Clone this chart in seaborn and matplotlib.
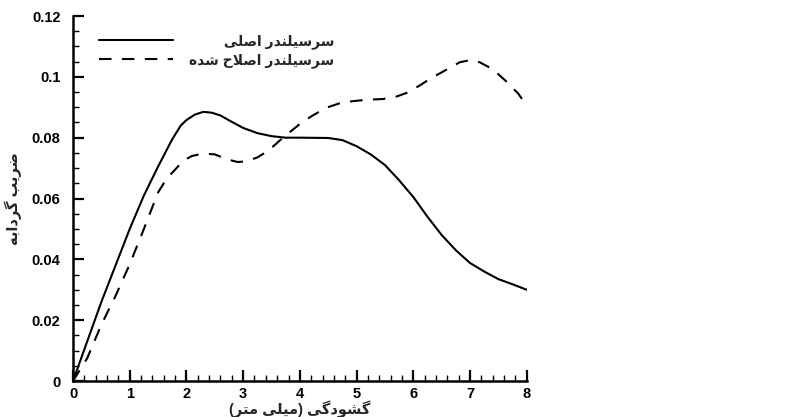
import matplotlib
matplotlib.use("Agg")
import matplotlib.pyplot as plt
from matplotlib.ticker import MultipleLocator
import seaborn as sns
import pandas as pd

# ---------------- data ----------------
x_main = [0, 0.25, 0.5, 0.75, 1, 1.25, 1.5, 1.75, 1.9, 2.0, 2.15, 2.3, 2.45, 2.6, 2.8,
          3.0, 3.25, 3.5, 3.75, 4.0, 4.5, 4.75, 5.0, 5.25, 5.5, 5.75, 6.0, 6.25, 6.5,
          6.75, 7.0, 7.25, 7.5, 7.75, 8]
y_main = [0, 0.013, 0.026, 0.038, 0.050, 0.061, 0.0705, 0.0795, 0.084, 0.0858, 0.0876,
          0.0885, 0.0882, 0.0873, 0.0852, 0.0832, 0.0815, 0.0805, 0.0800, 0.0800,
          0.0799, 0.0792, 0.0772, 0.0745, 0.0710, 0.0660, 0.0605, 0.0540, 0.0480,
          0.0430, 0.0388, 0.0360, 0.0335, 0.0318, 0.0300]

x_mod = [0, 0.25, 0.5, 0.75, 1, 1.25, 1.5, 1.65, 1.8, 1.95, 2.1, 2.3, 2.5, 2.7, 2.9,
         3.05, 3.25, 3.45, 3.64, 3.8, 4.0, 4.2, 4.46, 4.7, 4.93, 5.2, 5.46, 5.7, 5.88,
         6.1, 6.29, 6.55, 6.82, 7.0, 7.17, 7.4, 7.64, 7.85, 8]
y_mod = [0, 0.0075, 0.0185, 0.028, 0.0384, 0.050, 0.062, 0.0665, 0.0695, 0.0725,
         0.0740, 0.0748, 0.0745, 0.0730, 0.0720, 0.0722, 0.0735, 0.0758, 0.0790,
         0.0815, 0.0845, 0.0870, 0.0898, 0.0913, 0.0920, 0.0925, 0.0927, 0.0935,
         0.0947, 0.0970, 0.0993, 0.1020, 0.1048, 0.1055, 0.1048, 0.1025, 0.0985,
         0.0945, 0.0905]

label_main = "سرسیلندر اصلی"
label_mod = "سرسیلندر اصلاح شده"
xlabel = "گشودگی (میلی متر)"
ylabel = "ضریب گردابه"
x_ticks = [0, 1, 2, 3, 4, 5, 6, 7, 8]
y_ticks = [0, 0.02, 0.04, 0.06, 0.08, 0.1, 0.12]
y_ticklabels = ["0", "0.02", "0.04", "0.06", "0.08", "0.1", "0.12"]

# ---------------- simple Persian shaping (matplotlib has no text shaping) ----------------
DUAL = {
    'ب': (0xFE8F, 0xFE90, 0xFE91, 0xFE92), 'ت': (0xFE95, 0xFE96, 0xFE97, 0xFE98),
    'ح': (0xFEA1, 0xFEA2, 0xFEA3, 0xFEA4), 'س': (0xFEB1, 0xFEB2, 0xFEB3, 0xFEB4),
    'ش': (0xFEB5, 0xFEB6, 0xFEB7, 0xFEB8), 'ص': (0xFEB9, 0xFEBA, 0xFEBB, 0xFEBC),
    'ض': (0xFEBD, 0xFEBE, 0xFEBF, 0xFEC0), 'ل': (0xFEDD, 0xFEDE, 0xFEDF, 0xFEE0),
    'م': (0xFEE1, 0xFEE2, 0xFEE3, 0xFEE4), 'ن': (0xFEE5, 0xFEE6, 0xFEE7, 0xFEE8),
    'ه': (0xFEE9, 0xFEEA, 0xFEEB, 0xFEEC), 'ی': (0xFBFC, 0xFBFD, 0xFBFE, 0xFBFF),
    'گ': (0xFB92, 0xFB93, 0xFB94, 0xFB95),
}
RIGHT = {'ا': (0xFE8D, 0xFE8E), 'د': (0xFEA9, 0xFEAA), 'ر': (0xFEAD, 0xFEAE),
         'و': (0xFEED, 0xFEEE)}


def shape(s):
    chars = list(s)
    n = len(chars)
    res = []
    i = 0
    while i < n:
        c = chars[i]
        prev = chars[i - 1] if i > 0 else ''
        jp = prev in DUAL
        if c == 'ل' and i + 1 < n and chars[i + 1] == 'ا':
            res.append(chr(0xFEFC if jp else 0xFEFB))
            i += 2
            continue
        nxt = chars[i + 1] if i + 1 < n else ''
        if c in DUAL:
            jn = nxt in DUAL or nxt in RIGHT
            f = DUAL[c]
            idx = 3 if (jp and jn) else 1 if jp else 2 if jn else 0
            res.append(chr(f[idx]))
        elif c in RIGHT:
            res.append(chr(RIGHT[c][1 if jp else 0]))
        else:
            res.append(c)
        i += 1
    vis = ''.join(reversed(res))
    return vis.translate(str.maketrans('()', ')('))


# ---------------- style ----------------
sns.set_style("ticks")
plt.rcParams['font.family'] = ['Liberation Sans', 'DejaVu Sans']
plt.rcParams['font.weight'] = 'bold'

fig = plt.figure(figsize=(7.85, 4.17), dpi=100)
ax = fig.add_axes([0.093, 0.0863, 0.578, 0.8753])

df_main = pd.DataFrame({"x": x_main, "y": y_main})
df_mod = pd.DataFrame({"x": x_mod, "y": y_mod})

sns.lineplot(data=df_main, x="x", y="y", ax=ax, color="black", linewidth=1.5,
             label=shape(label_main), sort=False)
sns.lineplot(data=df_mod, x="x", y="y", ax=ax, color="black", linewidth=1.5,
             linestyle=(0, (6, 5)), label=shape(label_mod), sort=False)

ax.set_xlim(0, 8)
ax.set_ylim(0, 0.12)
ax.set_xticks(x_ticks)
ax.set_xticklabels([str(t) for t in x_ticks])
ax.set_yticks(y_ticks)
ax.set_yticklabels(y_ticklabels)
ax.xaxis.set_minor_locator(MultipleLocator(0.2))
ax.yaxis.set_minor_locator(MultipleLocator(0.005))
ax.tick_params(which="major", direction="in", length=8, width=1.6, labelsize=10.5,
               color="black", labelcolor="black")
ax.tick_params(axis="y", which="major", pad=9)
ax.tick_params(axis="x", which="major", pad=4)
ax.tick_params(which="minor", direction="in", length=4, width=1.0, color="black")
for lab in ax.get_xticklabels() + ax.get_yticklabels():
    lab.set_fontweight("bold")

for side in ["top", "right"]:
    ax.spines[side].set_visible(False)
for side in ["left", "bottom"]:
    ax.spines[side].set_linewidth(1.8)
    ax.spines[side].set_color("black")

ax.set_xlabel(shape(xlabel), fontsize=10.5, fontweight="bold", labelpad=0)
ax.set_ylabel(shape(ylabel), fontsize=10.5, fontweight="bold", labelpad=7)

leg = ax.legend(loc="upper left", bbox_to_anchor=(0.03, 0.985), frameon=False,
                handlelength=5.3, handletextpad=1.2, labelspacing=0.3,
                prop={"weight": "bold", "size": 10})

# right-align the legend texts (RTL) by padding the shorter one with spaces
fig.canvas.draw()
r = fig.canvas.get_renderer()
texts = leg.get_texts()
widths = [t.get_window_extent(r).width for t in texts]
wmax = max(widths)
for t, w in zip(texts, widths):
    s = t.get_text()
    while t.get_window_extent(r).width < wmax - 1.5:
        s = " " + s
        t.set_text(s)

fig.savefig("out.png", dpi=100)
